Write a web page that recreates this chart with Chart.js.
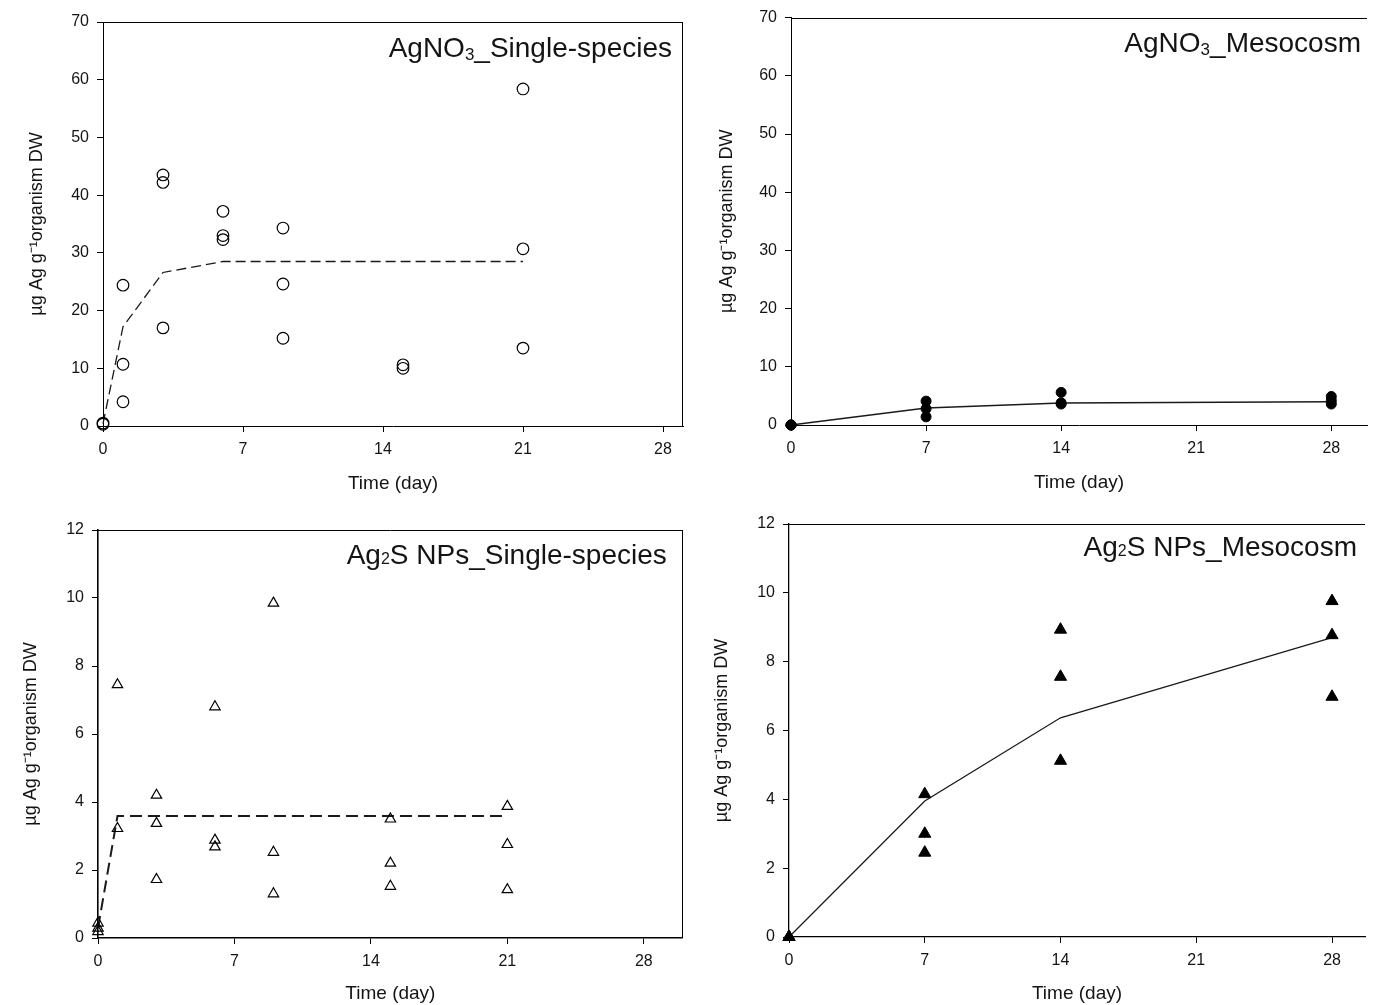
<!DOCTYPE html>
<html>
<head>
<meta charset="utf-8">
<title>Ag uptake over time</title>
<script src="https://cdn.jsdelivr.net/npm/chart.js@4.4.1/dist/chart.umd.min.js"></script>
<style>
  html, body { margin: 0; padding: 0; background: #fff; overflow: hidden; }
  canvas { position: absolute; }
</style>
</head>
<body>
<canvas id="p1" width="690" height="505" style="left:0;top:0"></canvas>
<canvas id="p2" width="683" height="505" style="left:690px;top:0"></canvas>
<canvas id="p3" width="690" height="500" style="left:0;top:505px"></canvas>
<canvas id="p4" width="683" height="500" style="left:690px;top:505px"></canvas>
<script>
// tick labels
const dayTicks = [0, 7, 14, 21, 28];
const concTicksHigh = [0, 10, 20, 30, 40, 50, 60, 70];
const concTicksLow = [0, 2, 4, 6, 8, 10, 12];

const xTitle = 'Time (day)';
const yTitle = 'µg Ag g⁻¹organism DW';

// AgNO3 single-species (open circles + dashed fit)
const agSingleTitle = ['AgNO', '3', '_Single-species'];
const agSingleDays = [0, 0, 1, 1, 1, 3, 3, 3, 6, 6, 6, 9, 9, 9, 15, 15, 21, 21, 21];
const agSingleConc = [0.3, 0.5, 24.4, 10.7, 4.2, 43.5, 42.2, 17.0, 37.2, 33.0, 32.3, 34.3, 24.6, 15.2, 10.6, 10.0, 58.4, 30.7, 13.5];
const agSingleFitDays = [0, 1, 3, 6, 21];
const agSingleFitConc = [0.4, 17.2, 26.6, 28.5, 28.5];

// AgNO3 mesocosm (filled circles + solid line)
const agMesoTitle = ['AgNO', '3', '_Mesocosm'];
const agMesoDays = [0, 0, 0, 7, 7, 7, 14, 14, 14, 28, 28, 28];
const agMesoConc = [0, 0, 0, 4.1, 2.8, 1.4, 5.6, 3.8, 3.6, 4.9, 4.2, 3.6];
const agMesoFitDays = [0, 7, 14, 28];
const agMesoFitConc = [0, 2.9, 3.8, 4.0];

// Ag2S NPs single-species (open triangles + dashed fit)
const npSingleTitle = ['Ag', '2', 'S NPs_Single-species'];
const npSingleDays = [0, 0, 0, 1, 1, 3, 3, 3, 6, 6, 6, 9, 9, 9, 15, 15, 15, 21, 21, 21];
const npSingleConc = [0.44, 0.29, 0.19, 7.45, 3.22, 4.2, 3.37, 1.72, 6.8, 2.88, 2.68, 9.85, 2.52, 1.3, 3.5, 2.2, 1.52, 3.87, 2.75, 1.42];
const npSingleFitDays = [0, 1, 21];
const npSingleFitConc = [0.3, 3.59, 3.59];

// Ag2S NPs mesocosm (filled triangles + solid line)
const npMesoTitle = ['Ag', '2', 'S NPs_Mesocosm'];
const npMesoDays = [0, 0, 0, 7, 7, 7, 14, 14, 14, 28, 28, 28];
const npMesoConc = [0, 0, 0, 4.15, 3.0, 2.45, 8.93, 7.56, 5.12, 9.76, 8.77, 6.98];
const npMesoFitDays = [0, 7, 14, 28];
const npMesoFitConc = [0, 3.95, 6.37, 8.7];

const FONT = "'Liberation Sans', Arial, Helvetica, sans-serif";
const INK = '#141414';

const pts = (xs, ys) => xs.map((x, i) => ({ x: x, y: ys[i] }));

// frame (top + optional right edge) and the in-plot panel title
const panelPlugin = {
  id: 'panel',
  afterDraw(chart, args, o) {
    const { ctx, chartArea: a } = chart;
    ctx.save();
    ctx.strokeStyle = '#000';
    ctx.lineWidth = 1;
    ctx.beginPath();
    const top = Math.round(a.top) + 0.5;
    ctx.moveTo(a.left, top);
    ctx.lineTo(a.right, top);
    if (o.closed) {
      const r = Math.round(a.right) - 0.5;
      ctx.moveTo(r, a.top);
      ctx.lineTo(r, a.bottom);
    }
    ctx.stroke();

    // title: main / subscript / main
    const [p0, sub, p2] = o.title;
    const big = '28px ' + FONT, small = o.subSize + 'px ' + FONT;
    ctx.fillStyle = INK;
    ctx.textBaseline = 'alphabetic';
    ctx.textAlign = 'left';
    ctx.font = big;
    const w0 = ctx.measureText(p0).width, w2 = ctx.measureText(p2).width;
    ctx.font = small;
    const w1 = ctx.measureText(sub).width;
    let x = a.right - o.titleInset - (w0 + w1 + w2);
    const y = a.top + o.titleBase;
    ctx.font = big;
    ctx.fillText(p0, x, y);
    x += w0;
    ctx.font = small;
    ctx.fillText(sub, x, y + o.subDrop);
    x += w1;
    ctx.font = big;
    ctx.fillText(p2, x, y);
    ctx.restore();
  }
};

function makePanel(id, cfg) {
  const scatter = {
    data: pts(cfg.days, cfg.conc),
    showLine: false,
    pointStyle: cfg.marker,
    pointRadius: cfg.radius,
    pointBorderWidth: cfg.filled ? 1 : 1.2,
    pointBackgroundColor: cfg.filled ? '#000' : 'rgba(0,0,0,0)',
    pointBorderColor: '#000',
    clip: false
  };
  const fit = {
    data: pts(cfg.fitDays, cfg.fitConc),
    showLine: true,
    pointRadius: 0,
    borderColor: '#1a1a1a',
    borderWidth: cfg.lineWidth,
    borderDash: cfg.dash,
    tension: 0,
    clip: false
  };
  new Chart(document.getElementById(id), {
    type: 'scatter',
    data: { datasets: [scatter, fit] },
    options: {
      responsive: false,
      animation: false,
      events: [],
      layout: { padding: { top: cfg.padTop, right: cfg.padRight, left: 0, bottom: 0 } },
      plugins: {
        legend: { display: false },
        tooltip: { enabled: false },
        panel: cfg.panel
      },
      scales: {
        x: {
          type: 'linear',
          min: 0,
          max: cfg.xMax,
          afterBuildTicks: s => { s.ticks = dayTicks.map(v => ({ value: v })); },
          afterFit: s => { s.height = cfg.xHeight; },
          grid: { drawOnChartArea: false, drawTicks: true, tickLength: 6, tickColor: '#000', tickWidth: 1 },
          border: { display: true, color: '#000', width: cfg.axisWidth },
          ticks: { color: INK, font: { family: FONT, size: 16 }, padding: 8, maxRotation: 0, autoSkip: false },
          title: { display: true, text: xTitle, color: INK, font: { family: FONT, size: 19 }, padding: { top: 0, bottom: cfg.xTitlePad } }
        },
        y: {
          type: 'linear',
          min: 0,
          max: cfg.yTicks[cfg.yTicks.length - 1],
          afterBuildTicks: s => { s.ticks = cfg.yTicks.map(v => ({ value: v })); },
          afterFit: s => { s.width = cfg.yWidth; },
          grid: { drawOnChartArea: false, drawTicks: true, tickLength: 6, tickColor: '#000', tickWidth: 1 },
          border: { display: true, color: '#000', width: cfg.axisWidth },
          ticks: { color: INK, font: { family: FONT, size: 16 }, padding: 8, autoSkip: false },
          title: { display: true, text: yTitle, color: INK, font: { family: FONT, size: 18 }, padding: { top: cfg.yTitlePad, bottom: 0 } }
        }
      }
    },
    plugins: [panelPlugin]
  });
}

makePanel('p1', {
  days: agSingleDays, conc: agSingleConc, fitDays: agSingleFitDays, fitConc: agSingleFitConc,
  marker: 'circle', radius: 5.8, filled: false, lineWidth: 1.3, dash: [10, 5],
  yTicks: concTicksHigh, xMax: 29, axisWidth: 1,
  padTop: 22, padRight: 7, yWidth: 103, xHeight: 79, xTitlePad: 10, yTitlePad: 26,
  panel: { title: agSingleTitle, closed: true, titleInset: 11, titleBase: 35, subSize: 17, subDrop: 3 }
});

makePanel('p2', {
  days: agMesoDays, conc: agMesoConc, fitDays: agMesoFitDays, fitConc: agMesoFitConc,
  marker: 'circle', radius: 5, filled: true, lineWidth: 1.5, dash: [],
  yTicks: concTicksHigh, xMax: 29.85, axisWidth: 1,
  padTop: 17, padRight: 0, yWidth: 101, xHeight: 80, xTitlePad: 11, yTitlePad: 26,
  panel: { title: agMesoTitle, closed: false, titleInset: 6, titleBase: 34, subSize: 17, subDrop: 3 }
});

makePanel('p3', {
  days: npSingleDays, conc: npSingleConc, fitDays: npSingleFitDays, fitConc: npSingleFitConc,
  marker: 'triangle', radius: 6, filled: false, lineWidth: 2, dash: [12, 6],
  yTicks: concTicksLow, xMax: 30, axisWidth: 1.6,
  padTop: 25, padRight: 7, yWidth: 98, xHeight: 67, xTitlePad: 0, yTitlePad: 20,
  panel: { title: npSingleTitle, closed: true, titleInset: 16, titleBase: 34, subSize: 16, subDrop: 0 }
});

makePanel('p4', {
  days: npMesoDays, conc: npMesoConc, fitDays: npMesoFitDays, fitConc: npMesoFitConc,
  marker: 'triangle', radius: 7, filled: true, lineWidth: 1.3, dash: [],
  yTicks: concTicksLow, xMax: 29.7, axisWidth: 1.3,
  padTop: 19, padRight: 0, yWidth: 99, xHeight: 68, xTitlePad: 0, yTitlePad: 21,
  panel: { title: npMesoTitle, closed: false, titleInset: 8, titleBase: 32, subSize: 16, subDrop: 0 }
});
</script>
</body>
</html>
